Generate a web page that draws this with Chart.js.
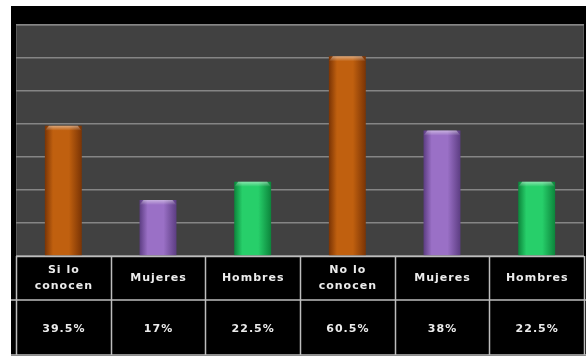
<!DOCTYPE html>
<html>
<head>
<meta charset="utf-8">
<script src="https://cdn.jsdelivr.net/npm/chart.js@4"></script>
<style>
  html, body { margin: 0; padding: 0; background: #fff; }
  #wrap { width: 586px; height: 358px; position: relative; }
</style>
</head>
<body>
<div id="wrap"><canvas id="chart" width="586" height="358"></canvas></div>
<script>
// categories shown in the table header row
const categories = [['Si lo', 'conocen'], 'Mujeres', 'Hombres', ['No lo', 'conocen'], 'Mujeres', 'Hombres'];
// percentages per bar
const values = [39.5, 17, 22.5, 60.5, 38, 22.5];
// text in the bottom table row
const valueLabels = ['39.5%', '17%', '22.5%', '60.5%', '38%', '22.5%'];
// bar colour groups: dark edge, light middle
const barEdge = ['#7a3405', '#5c3d82', '#0c853b', '#7a3405', '#5c3d82', '#0c853b'];
const barMid  = ['#c0600f', '#9a70c6', '#27cf6a', '#c0600f', '#9a70c6', '#27cf6a'];
const yTicks = [0, 10, 20, 30, 40, 50, 60, 70];
const BAR_PCT = 0.39;

function barFill(ctx) {
  const chart = ctx.chart;
  const i = ctx.dataIndex;
  const x = chart.scales && chart.scales.x;
  if (!x || !chart.chartArea) return barMid[i];
  const cx = x.getPixelForValue(i);
  const half = (x.width / categories.length) * BAR_PCT / 2;
  if (!isFinite(cx) || !isFinite(half)) return barMid[i];
  const g = chart.ctx.createLinearGradient(cx - half, 0, cx + half, 0);
  g.addColorStop(0, barEdge[i]);
  g.addColorStop(0.22, barMid[i]);
  g.addColorStop(0.65, barMid[i]);
  g.addColorStop(1, barEdge[i]);
  return g;
}

const framePlugin = {
  id: 'frame',
  beforeDraw(chart) {
    const c = chart.ctx;
    const a = chart.chartArea;
    c.save();
    c.fillStyle = '#ffffff';
    c.fillRect(0, 0, chart.width, chart.height);
    c.fillStyle = '#000000';
    c.fillRect(11, 6, chart.width - 11, 350);
    c.fillStyle = '#414141';
    c.fillRect(a.left, a.top, a.right - a.left, a.bottom - a.top);
    c.strokeStyle = '#5a5a5a';
    c.lineWidth = 1;
    c.strokeRect(a.left + 0.5, a.top + 0.5, a.right - a.left - 1, a.bottom - a.top);
    c.restore();
  },
  afterDatasetsDraw(chart) {
    // light bevel on top of each bar
    const c = chart.ctx;
    const meta = chart.getDatasetMeta(0);
    c.save();
    meta.data.forEach((bar) => {
      const half = bar.width / 2;
      const g = c.createLinearGradient(0, bar.y, 0, bar.y + 5);
      g.addColorStop(0, 'rgba(255,255,255,0.45)');
      g.addColorStop(1, 'rgba(255,255,255,0)');
      c.fillStyle = g;
      c.beginPath();
      c.moveTo(bar.x - half, bar.y + 5);
      c.lineTo(bar.x - half + 4, bar.y);
      c.lineTo(bar.x + half - 4, bar.y);
      c.lineTo(bar.x + half, bar.y + 5);
      c.closePath();
      c.fill();
    });
    c.restore();
  },
  afterDraw(chart) {
    // data table under the plot, columns taken from the x scale
    const c = chart.ctx;
    const a = chart.chartArea;
    const x = chart.scales.x;
    const top = a.bottom;
    const mid = 300;
    const bottom = 355;
    const n = categories.length;
    const edges = [];
    for (let i = 0; i <= n; i++) {
      if (i === 0) edges.push(a.left);
      else if (i === n) edges.push(a.right);
      else edges.push((x.getPixelForValue(i - 1) + x.getPixelForValue(i)) / 2);
    }
    c.save();
    c.fillStyle = '#000';
    c.fillRect(a.left, top, a.right - a.left, bottom - top);
    c.strokeStyle = '#bdbdbd';
    c.lineWidth = 1.5;
    c.beginPath();
    c.moveTo(a.left, top + 0.5); c.lineTo(a.right, top + 0.5);
    c.moveTo(11, mid); c.lineTo(chart.width, mid);
    c.moveTo(11, bottom); c.lineTo(chart.width, bottom);
    edges.forEach(e => { c.moveTo(Math.round(e) + 0.5, top); c.lineTo(Math.round(e) + 0.5, bottom); });
    c.stroke();

    c.fillStyle = '#ececec';
    c.font = 'bold 11px "DejaVu Sans"';
    c.letterSpacing = '1px';
    c.textAlign = 'center';
    c.textBaseline = 'middle';
    for (let i = 0; i < n; i++) {
      const cx = x.getPixelForValue(i) + 0.5;
      const lab = categories[i];
      if (Array.isArray(lab)) {
        c.fillText(lab[0], cx, 270);
        c.fillText(lab[1], cx, 286);
      } else {
        c.fillText(lab, cx, 278);
      }
      c.fillText(valueLabels[i], cx, 329);
    }
    c.restore();
  }
};

new Chart(document.getElementById('chart'), {
  type: 'bar',
  data: {
    labels: categories,
    datasets: [{
      data: values,
      backgroundColor: barFill,
      borderWidth: 0,
      categoryPercentage: 1,
      barPercentage: BAR_PCT
    }]
  },
  options: {
    responsive: false,
    animation: false,
    layout: { padding: { left: 16, right: 2, top: 25, bottom: 102 } },
    plugins: { legend: { display: false }, tooltip: { enabled: false } },
    scales: {
      x: { display: false },
      y: {
        min: 0, max: 70,
        afterBuildTicks(scale) { scale.ticks = yTicks.map(v => ({ value: v })); },
        ticks: { display: false },
        border: { display: false },
        grid: { color: '#858585', lineWidth: 1.5, drawTicks: false }
      }
    }
  },
  plugins: [framePlugin]
});
</script>
</body>
</html>
